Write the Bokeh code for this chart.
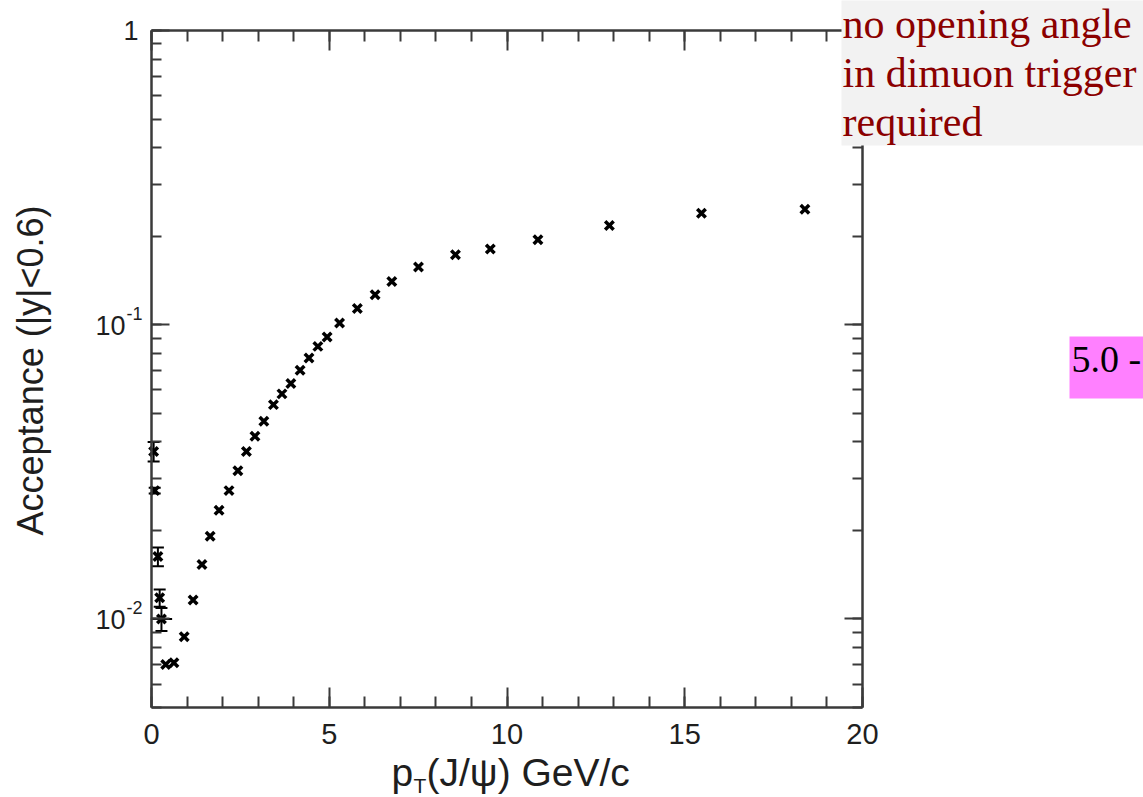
import math
from bokeh.plotting import figure
from bokeh.models import (ColumnDataSource, Whisker, TeeHead, Label, LinearAxis, LogAxis,
                          SingleIntervalTicker, LogTicker, CustomJSTickFormatter, Range1d,
                          BoxAnnotation)
from bokeh.embed import file_html
from bokeh.resources import INLINE

# ---------------- data ----------------
pt = [0.06, 0.09, 0.18, 0.23, 0.28, 0.40, 0.63, 0.92, 1.17, 1.42, 1.65, 1.90,
      2.18, 2.43, 2.67, 2.91, 3.16, 3.43, 3.67, 3.92, 4.18, 4.43, 4.68, 4.94,
      5.29, 5.79, 6.29, 6.76, 7.51, 8.55, 9.53, 10.87, 12.88, 15.47, 18.38]
acc = [0.0371, 0.0273, 0.0163, 0.0118, 0.0100, 0.0070, 0.0071, 0.0087, 0.0116,
       0.0153, 0.0191, 0.0234, 0.0273, 0.0319, 0.0371, 0.0418, 0.0470, 0.0535,
       0.0582, 0.0631, 0.0700, 0.0771, 0.0844, 0.0908, 0.1013, 0.1136, 0.1264,
       0.1403, 0.1570, 0.1730, 0.1810, 0.1944, 0.2175, 0.2393, 0.2470]
acc_err = [0.0028, 0.0006, 0.0012, 0.0008, 0.0009] + [0.0] * 30
pt_err = [0.0, 0.0, 0.0, 0.0, 0.3] + [0.0] * 30

x_tick_interval = 5
y_tick_values = [1.0, 0.1, 0.01]
y_tick_bases = ["1", "10", "10"]
y_tick_exps = ["", "-1", "-2"]

x_title_main = "p"
x_title_sub = "T"
x_title_rest = "(J/\u03c8) GeV/c"
y_title = "Acceptance (|y|<0.6)"
note_lines = ["no opening angle", "in dimuon trigger", "required"]
side_text = "5.0 -"

# ---------------- layout ----------------
W, H = 1143, 797
L, R, T, B = 151, 862, 30, 707          # pixel box of the plotted region
X0, X1 = 0.0, 20.0
Y0, Y1 = 0.005, 1.0
LY0, LY1 = math.log10(Y0), math.log10(Y1)


def dx(px):
    return X0 + (px - L) / (R - L) * (X1 - X0)


def dy(py):
    return 10 ** (LY0 + (B - py) / (B - T) * (LY1 - LY0))


def py_of(v):
    return B - (math.log10(v) - LY0) / (LY1 - LY0) * (B - T)


AX = "#3a3a3a"
TXT = "#1e1e1e"
SANS = "Liberation Sans"
SERIF = "Liberation Serif"

p = figure(width=W, height=H, x_range=Range1d(dx(0), dx(W)), y_range=Range1d(dy(H), dy(0)),
           y_axis_type="log", output_backend="svg", toolbar_location=None,
           min_border=0, background_fill_color="white", border_fill_color="white")
p.grid.visible = False
p.outline_line_color = None

blank = CustomJSTickFormatter(code="return ''")


def style(ax, major_in, minor_in):
    ax.axis_line_color = AX
    ax.axis_line_width = 2.5
    ax.major_tick_line_color = AX
    ax.minor_tick_line_color = AX
    ax.major_tick_line_width = 2
    ax.minor_tick_line_width = 2
    ax.major_tick_in = major_in
    ax.major_tick_out = 0
    ax.minor_tick_in = minor_in
    ax.minor_tick_out = 0


# bottom x axis (with labels)
xa = p.xaxis[0]
xa.ticker = SingleIntervalTicker(interval=x_tick_interval, num_minor_ticks=5)
xa.fixed_location = Y0
xa.bounds = (X0, X1)
style(xa, 20, 11)
xa.major_label_text_font = SANS
xa.major_label_text_font_size = "29px"
xa.major_label_text_color = TXT
xa.major_label_standoff = 16

# left y axis (labels drawn separately with superscripts)
ya = p.yaxis[0]
ya.ticker = LogTicker(num_minor_ticks=10)
ya.formatter = blank
ya.fixed_location = X0
ya.bounds = (Y0, Y1)
style(ya, 18, 10)

# mirrored axes
top = LinearAxis(ticker=SingleIntervalTicker(interval=x_tick_interval, num_minor_ticks=5),
                 formatter=blank, fixed_location=Y1, bounds=(X0, X1))
style(top, 20, 11)
p.add_layout(top, "above")
right = LogAxis(ticker=LogTicker(num_minor_ticks=10), formatter=blank,
                fixed_location=X1, bounds=(Y0, Y1))
style(right, 18, 10)
p.add_layout(right, "right")

# ---------------- data marks ----------------
src = ColumnDataSource(dict(pt=pt, acc=acc))
p.scatter("pt", "acc", source=src, marker="x", size=12, line_width=3.5, color="black")

ey = [i for i, e in enumerate(acc_err) if e > 0]
esrc = ColumnDataSource(dict(
    x=[pt[i] for i in ey],
    lo=[acc[i] - acc_err[i] for i in ey],
    hi=[acc[i] + acc_err[i] for i in ey]))
p.add_layout(Whisker(base="x", lower="lo", upper="hi", source=esrc, dimension="height",
                     line_color="black", line_width=2,
                     lower_head=TeeHead(size=12, line_width=2, line_color="black"),
                     upper_head=TeeHead(size=12, line_width=2, line_color="black")))

ex = [i for i, e in enumerate(pt_err) if e > 0]
xsrc = ColumnDataSource(dict(
    y=[acc[i] for i in ex],
    lo=[pt[i] - pt_err[i] for i in ex],
    hi=[pt[i] + pt_err[i] for i in ex]))
p.add_layout(Whisker(base="y", lower="lo", upper="hi", source=xsrc, dimension="width",
                     line_color="black", line_width=2,
                     lower_head=TeeHead(size=0, line_alpha=0),
                     upper_head=TeeHead(size=0, line_alpha=0)))

# ---------------- y tick labels ----------------
for v, b, e in zip(y_tick_values, y_tick_bases, y_tick_exps):
    yp = py_of(v)
    if e:
        p.add_layout(Label(x=dx(125), y=dy(yp + 1), text=b, text_align="right",
                           text_baseline="middle", text_font=SANS,
                           text_font_size="27px", text_color=TXT))
        p.add_layout(Label(x=dx(126), y=dy(yp - 11), text=e, text_align="left",
                           text_baseline="middle", text_font=SANS,
                           text_font_size="18px", text_color=TXT))
    else:
        p.add_layout(Label(x=dx(138), y=dy(yp), text=b, text_align="right",
                           text_baseline="middle", text_font=SANS,
                           text_font_size="27px", text_color=TXT))

# ---------------- axis titles ----------------
p.add_layout(Label(x=dx(30), y=dy(370), text=y_title, angle=math.pi / 2,
                   text_align="center", text_baseline="middle", text_font=SANS,
                   text_font_size="36px", text_color=TXT))

p.add_layout(Label(x=dx(391), y=dy(750), text=x_title_main, text_align="left",
                   text_baseline="top", text_font=SANS,
                   text_font_size="39px", text_color=TXT))
p.add_layout(Label(x=dx(413), y=dy(773), text=x_title_sub, text_align="left",
                   text_baseline="top", text_font=SANS,
                   text_font_size="21px", text_color=TXT))
p.add_layout(Label(x=dx(426), y=dy(750), text=x_title_rest, text_align="left",
                   text_baseline="top", text_font=SANS,
                   text_font_size="39px", text_color=TXT))

# ---------------- slide annotations ----------------
p.add_layout(BoxAnnotation(left=dx(841), right=dx(W + 10), top=dy(-10), bottom=dy(145),
                           fill_color="#f2f2f2", fill_alpha=1.0, line_color=None))
for i, line in enumerate(note_lines):
    p.add_layout(Label(x=dx(842), y=dy(0 + 49 * i), text=line, text_align="left",
                       text_baseline="top", text_font=SERIF, text_font_size="42px",
                       text_color="#8b0000"))

p.add_layout(BoxAnnotation(left=dx(1069), right=dx(W + 10), top=dy(336), bottom=dy(398),
                           fill_color="#ff80ff", fill_alpha=1.0, line_color=None))
p.add_layout(Label(x=dx(1071), y=dy(337), text=side_text, text_align="left",
                   text_baseline="top", text_font=SERIF, text_font_size="38px",
                   text_color="black"))

open("out.html", "w").write(file_html(p, INLINE))
